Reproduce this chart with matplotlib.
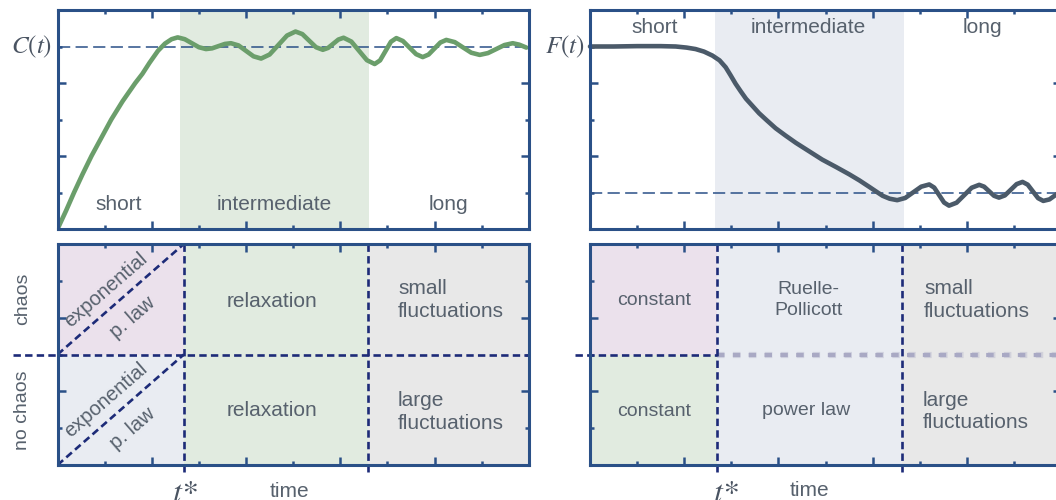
import numpy as np
from matplotlib import pyplot as plt
from matplotlib.ticker import MultipleLocator

# C(t): rise and fluctuations around the plateau
c_time = [0, 0.18, 0.35, 0.53, 0.72, 0.93, 1.14, 1.38, 1.65, 1.80, 1.95, 2.13, 2.28, 2.42,
          2.55, 2.70, 2.85, 3.00, 3.15, 3.28, 3.415, 3.55, 3.68, 3.84, 4.00, 4.16, 4.32,
          4.50, 4.685, 4.87, 5.05, 5.195, 5.34, 5.485, 5.63, 5.74, 5.85, 5.96, 6.07,
          6.235, 6.40, 6.565, 6.73, 6.845, 6.96, 7.075, 7.19, 7.33, 7.47, 7.61, 7.75,
          7.875, 8.00, 8.125, 8.25, 8.43, 8.605, 8.78, 8.96, 9.135, 9.31, 9.485, 9.66,
          9.80, 9.95]
c_value = [0, 0.5, 1.0, 1.5, 2.0, 2.5, 3.0, 3.5, 4.0, 4.25, 4.55, 4.88, 5.08, 5.20,
           5.25, 5.20, 5.09, 4.98, 4.93, 4.95, 5.01, 5.07, 5.09, 5.03, 4.88, 4.73, 4.67,
           4.78, 5.04, 5.30, 5.41, 5.34, 5.16, 4.98, 4.91, 4.96, 5.075, 5.19, 5.24,
           5.135, 4.88, 4.625, 4.52, 4.62, 4.875, 5.13, 5.23, 5.15, 4.97, 4.79, 4.71,
           4.78, 4.945, 5.11, 5.18, 5.12, 4.975, 4.83, 4.77, 4.82, 4.93, 5.04, 5.09,
           5.05, 4.97]
c_plateau = 5.0

# F(t): constant, decay, then fluctuations around the floor
f_time = [0, 0.5, 1.0, 1.5, 1.82, 2.05, 2.24, 2.42, 2.60, 2.75, 2.88, 2.98, 3.09, 3.20,
          3.31, 3.45, 3.59, 3.75, 3.94, 4.15, 4.37, 4.65, 4.93, 5.22, 5.50, 5.72, 5.92,
          6.07, 6.21, 6.36, 6.52, 6.69, 6.86, 7.03, 7.20, 7.305, 7.41, 7.515, 7.62,
          7.78, 7.94, 8.10, 8.26, 8.365, 8.47, 8.575, 8.68, 8.805, 8.93, 9.055, 9.18,
          9.29, 9.40, 9.51, 9.62, 9.75, 9.88, 10.05]
f_value = [5.0, 5.0, 5.01, 5.01, 5.0, 4.97, 4.93, 4.86, 4.75, 4.62, 4.43, 4.22, 3.98, 3.77,
           3.57, 3.37, 3.17, 2.98, 2.76, 2.56, 2.36, 2.13, 1.90, 1.70, 1.50, 1.33, 1.16,
           1.03, 0.91, 0.83, 0.79, 0.85, 1.005, 1.16, 1.22, 1.135, 0.93, 0.725, 0.64,
           0.72, 0.925, 1.13, 1.21, 1.16, 1.035, 0.91, 0.86, 0.92, 1.075, 1.23, 1.29,
           1.215, 1.03, 0.845, 0.77, 0.81, 0.93, 1.10]
f_floor = 1.0

# regime borders along time
c_borders = [2.6, 6.6]
f_borders = [2.65, 6.67]
c_tstar = [2.68, 6.58]
f_tstar = [2.7, 6.62]

regimes = ["short", "intermediate", "long"]

plt.rcParams['font.family'] = ['Liberation Sans', 'DejaVu Sans']
plt.rcParams['mathtext.fontset'] = 'stix'

spine_col = "#2a5087"
text_col = "#57616d"
navy = "#1d2b78"
green = "#e1ebe0"
purple = "#ebe1ec"
bluegray = "#e9ecf2"
gray = "#e8e8e8"
dash_navy = (0, (2.8, 1.6))

fig = plt.figure(figsize=(10.56, 5), dpi=100)
ax_c = fig.add_axes([0.0545, 0.542, 0.4462, 0.438])
ax_f = fig.add_axes([0.5587, 0.542, 0.4462, 0.438])
ax_cb = fig.add_axes([0.0545, 0.07, 0.4462, 0.442])
ax_fb = fig.add_axes([0.5587, 0.07, 0.4462, 0.442])

for ax in [ax_c, ax_f, ax_cb, ax_fb]:
    ax.set_xlim(0, 10)
    ax.set_ylim(0, 6)
    ax.xaxis.set_major_locator(MultipleLocator(2))
    ax.xaxis.set_minor_locator(MultipleLocator(1))
    ax.yaxis.set_major_locator(MultipleLocator(2))
    ax.yaxis.set_minor_locator(MultipleLocator(1))
    ax.tick_params(which='both', direction='in', top=True, right=True,
                   labelbottom=False, labelleft=False, color=spine_col, width=1.8)
    ax.tick_params(which='major', length=5.5)
    ax.tick_params(which='minor', length=3.2)
    for s in ax.spines.values():
        s.set_color(spine_col)
        s.set_linewidth(2.2)
        s.set_zorder(5)

# top left: C(t)
ax_c.axvspan(c_borders[0], c_borders[1], color=green, lw=0, zorder=0)
ax_c.axhline(c_plateau, color=spine_col, lw=1.1, ls=(0, (8, 3.5)), zorder=1)
ax_c.plot(c_time, c_value, color="#6b9e6b", lw=3.3, solid_capstyle='round', zorder=3)
c_mid = [c_borders[0] / 2, sum(c_borders) / 2, (c_borders[1] + 10) / 2]
for x, lab in zip(c_mid, regimes):
    ax_c.text(x, 0.68, lab, ha='center', va='center', fontsize=15, color=text_col)
ax_c.text(-0.12, c_plateau, "$C(t)$", ha='right', va='center', fontsize=18, color="#4a5462")

# top right: F(t)
ax_f.axvspan(f_borders[0], f_borders[1], color=bluegray, lw=0, zorder=0)
ax_f.axhline(f_floor, color=spine_col, lw=1.1, ls=(0, (8, 3.5)), zorder=1)
ax_f.plot(f_time, f_value, color="#4b5a69", lw=3.3, solid_capstyle='round', zorder=3, clip_on=False)
f_mid = [1.38, 4.63, 8.32]
for x, lab in zip(f_mid, regimes):
    ax_f.text(x, 5.51, lab, ha='center', va='center', fontsize=15, color=text_col)
ax_f.text(-0.12, 5.0, "$F(t)$", ha='right', va='center', fontsize=18, color="#4a5462")

# bottom left: regimes of C(t)
ax_cb.axvspan(0, c_tstar[0], ymin=0.5, ymax=1, color=purple, lw=0, zorder=0)
ax_cb.axvspan(0, c_tstar[0], ymin=0, ymax=0.5, color=bluegray, lw=0, zorder=0)
ax_cb.axvspan(c_tstar[0], c_tstar[1], color=green, lw=0, zorder=0)
ax_cb.axvspan(c_tstar[1], 10, color=gray, lw=0, zorder=0)
for x in c_tstar:
    ax_cb.plot([x, x], [6, -0.18], color=navy, lw=1.9, ls=dash_navy, clip_on=False, zorder=4)
ax_cb.plot([-0.94, 10], [3, 3], color=navy, lw=1.9, ls=dash_navy, clip_on=False, zorder=4)
ax_cb.plot([0, c_tstar[0]], [3, 6], color=navy, lw=1.9, ls=dash_navy, zorder=4)
ax_cb.plot([0, c_tstar[0]], [0, 3], color=navy, lw=1.9, ls=dash_navy, zorder=4)
for dy in [3, 0]:
    ax_cb.text(1.03, 1.76 + dy, "exponential", rotation=41, rotation_mode='anchor',
               ha='center', va='center', fontsize=14.5, color=text_col)
    ax_cb.text(1.60, 1.0 + dy, "p. law", rotation=41, rotation_mode='anchor',
               ha='center', va='center', fontsize=14.5, color=text_col)
ax_cb.text(4.55, 4.43, "relaxation", ha='center', va='center', fontsize=15, color=text_col)
ax_cb.text(4.55, 1.47, "relaxation", ha='center', va='center', fontsize=15, color=text_col)
ax_cb.text(7.23, 4.47, "small\nfluctuations", ha='left', va='center', fontsize=15,
           color=text_col, linespacing=1.25)
ax_cb.text(7.21, 1.43, "large\nfluctuations", ha='left', va='center', fontsize=15,
           color=text_col, linespacing=1.25)
ax_cb.text(-0.75, 4.51, "chaos", rotation=90, ha='center', va='center', fontsize=14, color=text_col)
ax_cb.text(-0.75, 1.49, "no chaos", rotation=90, ha='center', va='center', fontsize=14, color=text_col)
ax_cb.text(2.70, -0.42, "t*", family='STIXGeneral', style='italic', ha='center', va='top',
           fontsize=23, color="#4a5462", clip_on=False)
ax_cb.text(4.93, -0.71, "time", ha='center', va='center', fontsize=15, color=text_col)

# bottom right: regimes of F(t)
ax_fb.axvspan(0, f_tstar[0], ymin=0.5, ymax=1, color=purple, lw=0, zorder=0)
ax_fb.axvspan(0, f_tstar[0], ymin=0, ymax=0.5, color=green, lw=0, zorder=0)
ax_fb.axvspan(f_tstar[0], f_tstar[1], color=bluegray, lw=0, zorder=0)
ax_fb.axvspan(f_tstar[1], 10, color=gray, lw=0, zorder=0)
ax_fb.plot([f_tstar[0], 10.2], [3, 3], color="#a9a9c4", lw=4.5, alpha=0.35,
           ls=(0, (1.2, 1.35)), clip_on=False, zorder=3)
ax_fb.plot([f_tstar[0], 10.2], [3, 3], color="#a9a9c4", lw=3, ls=(0, (1.8, 2.0)),
           clip_on=False, zorder=3)
for x in f_tstar:
    ax_fb.plot([x, x], [6, -0.18], color=navy, lw=1.9, ls=dash_navy, clip_on=False, zorder=4)
ax_fb.plot([-0.32, f_tstar[0]], [3, 3], color=navy, lw=1.9, ls=dash_navy, clip_on=False, zorder=4)
ax_fb.text(1.36, 4.46, "constant", ha='center', va='center', fontsize=14, color=text_col)
ax_fb.text(1.36, 1.44, "constant", ha='center', va='center', fontsize=14, color=text_col)
ax_fb.text(4.63, 4.48, "Ruelle-\nPollicott", ha='center', va='center', fontsize=14,
           color=text_col, linespacing=1.25)
ax_fb.text(4.58, 1.47, "power law", ha='center', va='center', fontsize=14, color=text_col)
ax_fb.text(7.09, 4.48, "small\nfluctuations", ha='left', va='center', fontsize=15,
           color=text_col, linespacing=1.25)
ax_fb.text(7.06, 1.45, "large\nfluctuations", ha='left', va='center', fontsize=15,
           color=text_col, linespacing=1.25)
ax_fb.text(2.90, -0.42, "t*", family='STIXGeneral', style='italic', ha='center', va='top',
           fontsize=23, color="#4a5462", clip_on=False)
ax_fb.text(4.65, -0.70, "time", ha='center', va='center', fontsize=15, color=text_col)

plt.savefig("out.png", dpi=100)
